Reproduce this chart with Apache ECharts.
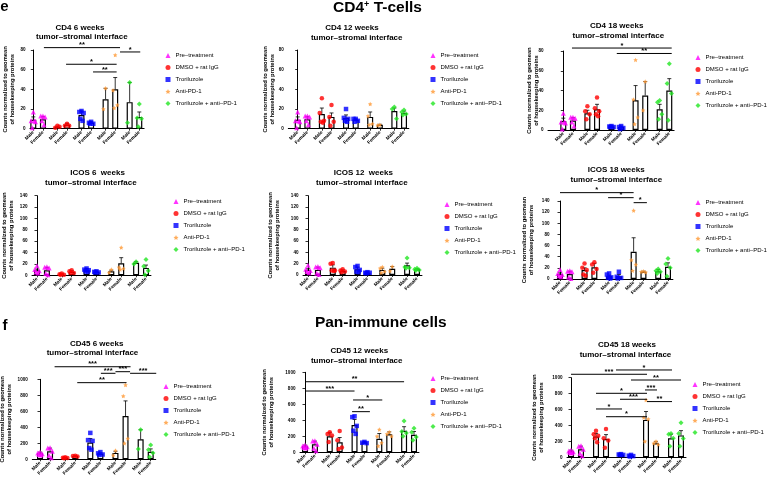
<!DOCTYPE html>
<html lang="en">
<head>
<meta charset="UTF-8">
<title>CD4+ T-cells / Pan-immune cells</title>
<style>
    body { margin: 0; background: #fff; }
    #chart { width: 770px; height: 483px; }
</style>
<script src="https://cdn.jsdelivr.net/npm/echarts@6/dist/echarts.min.js"></script>
</head>
<body>
<div id="chart"></div>
<script type="text/javascript">
var groups = ['Pre–treatment', 'DMSO + rat IgG', 'Troriluzole', 'Anti-PD-1', 'Troriluzole + anti–PD-1'];
var sexes = ['Male', 'Female'];
var yName = 'Counts normalized to geomean\nof housekeeping proteins';

// order of bars: Pre M, Pre F, DMSO M, DMSO F, Tro M, Tro F, aPD1 M, aPD1 F, combo M, combo F
var cd4w6Mean = [9, 9.5, 2, 4, 14, 6, 30, 40, 27, 12];
var cd4w6Err = [12, 12.5, 2.5, 5.5, 18, 7, 41, 52, 47, 17];
var cd4w6Pts = [[17, 8, 7, 1, 8], [13, 13, 12, 8, 4], [3, 1, 2], [5, 3, 3], [18, 17, 16, 10, 8], [7, 6, 5, 5], [41, 20], [75, 39, 24, 21], [47, 6], [25, 11, 10, 2]];
var cd4w6Sig = [[2.2, 18, 82.4, '**'], [18, 22.2, 78, '*'], [6.8, 17.3, 65.5, '*'], [12.4, 17.3, 57.7, '**']];

var cd4w12Mean = [9, 9.5, 15, 12, 11, 9, 12, 4, 18, 16];
var cd4w12Err = [12, 12.5, 21, 16, 14, 10, 17, 4.5, 21, 18];
var cd4w12Pts = [[17, 8, 7, 1, 8], [13, 13, 12, 8, 4], [31, 16, 8, 7, 6], [24, 12, 7, 3], [20, 11, 10, 8, 7], [10, 10, 8, 7], [25, 13, 5, 4], [4, 3.5], [22, 20, 10], [19, 17, 15, 14]];
var cd4w12Sig = [];

var cd4w18Mean = [9, 9.5, 17, 21, 3.5, 3, 30, 35, 21, 40];
var cd4w18Err = [12, 12.5, 20, 26, 4, 4, 45, 49, 26, 52];
var cd4w18Pts = [[17, 8, 7, 1, 8], [13, 13, 12, 8, 4], [24, 19, 16, 11], [33, 22, 19, 16, 14], [4, 3.5, 3, 3], [4, 3, 2, 1], [71, 31, 13, 6], [49, 20], [30, 28, 16, 11], [67, 47, 37, 10]];
var cd4w18Sig = [[1.8, 22.5, 83, '*'], [11.1, 22.5, 77.5, '**']];

var icosw6Mean = [9, 9, 2, 6, 9, 6, 7, 21, 22, 13];
var icosw6Err = [11, 14, 2.5, 8, 12, 7, 9, 31, 24, 18];
var icosw6Pts = [[17, 10, 8, 6, 4], [15, 14, 13, 3, 1], [3, 2, 1, 1], [9, 7, 4, 4], [12, 10, 9, 7, 6], [7, 6, 5, 5], [10, 5], [49, 14, 12, 10], [24, 20], [28, 16, 8, 1]];
var icosw6Sig = [];

var icosw12Mean = [9, 9, 13, 7, 10, 4, 9, 11, 17, 10];
var icosw12Err = [11, 14, 18, 9, 14, 5, 12, 15, 21, 11];
var icosw12Pts = [[17, 10, 8, 6, 4], [15, 14, 13, 3, 1], [21, 20, 8, 8, 7], [10, 8, 6, 5], [16, 14, 9, 6, 5], [5, 4, 4, 3], [14, 12, 6, 4], [15, 7], [30, 14, 13, 12], [12, 10, 9, 8]];
var icosw12Sig = [];

var icosw18Mean = [9, 9, 16, 21, 5, 5, 49, 13, 14, 22];
var icosw18Err = [11, 14, 20, 28, 7, 8, 74, 14, 17, 29];
var icosw18Pts = [[17, 10, 8, 6, 4], [15, 14, 13, 3, 1], [28, 20, 16, 8, 6], [30, 26, 18, 11], [10, 8, 3, 2, 1], [13, 4, 2, 1], [123, 34, 26, 15], [14, 13, 12], [18, 15, 13, 10], [37, 27, 20, 5]];
var icosw18Sig = [[0, 15, 155, '*'], [9.8, 15, 146, '*'], [15, 17.7, 137, '*']];

var cd45w6Mean = [75, 100, 20, 40, 210, 70, 80, 540, 250, 95];
var cd45w6Err = [90, 140, 25, 45, 260, 80, 100, 730, 370, 130];
var cd45w6Pts = [[90, 80, 70, 60, 55], [145, 140, 100, 50, 20], [25, 20, 15, 12], [45, 40, 35], [330, 240, 230, 140, 120], [90, 75, 60, 55], [110, 50], [930, 790, 260, 200], [370, 130], [180, 120, 80, 30]];
var cd45w6Sig = [[2.9, 18, 1157, '***'], [12.1, 15, 1075, '***'], [15, 17.9, 1095, '***'], [17.9, 23.1, 1075, '***'], [7.4, 17.2, 958, '**']];

var cd45w12Mean = [75, 100, 200, 125, 340, 125, 170, 225, 270, 220];
var cd45w12Err = [90, 140, 250, 185, 410, 135, 235, 255, 320, 260];
var cd45w12Pts = [[90, 80, 70, 60, 55], [145, 140, 100, 50, 20], [250, 230, 210, 130], [265, 150, 60, 40], [450, 440, 330, 270, 230], [130, 120, 115], [285, 200, 120, 80], [255, 230, 200], [390, 260, 240, 200], [300, 250, 190, 150]];
var cd45w12Sig = [[0, 20, 882, '**'], [0, 10, 766, '***'], [9.7, 15.6, 654, '*'], [9.5, 13.1, 508, '**']];

var cd45w18Mean = [75, 100, 260, 230, 35, 20, 470, 175, 240, 275];
var cd45w18Err = [90, 140, 300, 285, 40, 25, 575, 195, 290, 335];
var cd45w18Pts = [[90, 80, 70, 60, 55], [145, 140, 100, 50, 20], [335, 290, 270, 240, 190], [355, 240, 210, 120], [40, 35, 30, 30], [30, 20, 15, 10], [720, 500, 480, 200], [200, 175, 160], [300, 290, 240, 140], [435, 300, 235, 140]];
var cd45w18Sig = [[9, 20.2, 1097, '*'], [0, 15.2, 1043, '***'], [12, 22, 971, '**'], [14.8, 17.2, 846, '***'], [5, 15.2, 804, '*'], [9.8, 15.2, 729, '***'], [15.2, 20.2, 700, '**'], [5, 10.2, 607, '*'], [7, 15.2, 510, '*']];

var FONT = '"Liberation Sans", Arial, sans-serif';
var starPath = 'path://M0,-10L2.9,-4L9.5,-3.1L4.7,1.5L5.9,8.1L0,5L-5.9,8.1L-4.7,1.5L-9.5,-3.1L-2.9,-4Z';
var marks = [
    { symbol: 'triangle', color: '#ff00ff', size: 5 },
    { symbol: 'circle', color: '#ff0000', size: 4.5 },
    { symbol: 'rect', color: '#0000ff', size: 4.5 },
    { symbol: starPath, color: '#ff9933', size: 4.5 },
    { symbol: 'diamond', color: '#22e622', size: 5 }
];
// bar positions on the x axis (2 units inside a group, 3 between groups)
var barSlots = [0, 2, 5, 7, 10, 12, 15, 17, 20, 22];
var jitter = [0, -0.45, 0.45, -0.22, 0.22];

var panels = [
    { t1: 'CD4 6 weeks', t: [80, 27.5, 81.8, 37], ymax: 80, step: 20, axisX: 30, bar0: 33.3, barN: 139.3, yTop: 50, yZero: 128.7, gap: 14.5, leg: [168, 55],
      mean: cd4w6Mean, err: cd4w6Err, pts: cd4w6Pts, sig: cd4w6Sig },
    { t1: 'CD4 12 weeks', t: [352, 27.3, 356.7, 37.5], ymax: 80, step: 20, axisX: 288.3, bar0: 297.7, barN: 404, yTop: 50, yZero: 128.7, gap: 12, leg: [433, 55],
      mean: cd4w12Mean, err: cd4w12Err, pts: cd4w12Pts, sig: cd4w12Sig },
    { t1: 'CD4 18 weeks', t: [616.7, 26, 618.3, 36], ymax: 80, step: 20, axisX: 548, bar0: 563.3, barN: 669.3, yTop: 51, yZero: 130, gap: 8, leg: [698, 57],
      mean: cd4w18Mean, err: cd4w18Err, pts: cd4w18Pts, sig: cd4w18Sig },
    { t1: 'ICOS 6  weeks', t: [97.5, 172.3, 90.8, 182.7], ymax: 140, step: 20, axisX: 32, bar0: 37, barN: 146, yTop: 195.7, yZero: 275.3, gap: 17.5, leg: [176, 201],
      mean: icosw6Mean, err: icosw6Err, pts: icosw6Pts, sig: icosw6Sig },
    { t1: 'ICOS 12  weeks', t: [363.3, 172.7, 361.8, 182.7], ymax: 140, step: 20, axisX: 303, bar0: 308, barN: 417, yTop: 195.7, yZero: 275, gap: 22, leg: [447, 204],
      mean: icosw12Mean, err: icosw12Err, pts: icosw12Pts, sig: icosw12Sig },
    { t1: 'ICOS 18 weeks', t: [616.2, 170, 616.3, 180], ymax: 140, step: 20, axisX: 554, bar0: 560, barN: 668, yTop: 201, yZero: 279, gap: 19.5, leg: [698, 202],
      mean: icosw18Mean, err: icosw18Err, pts: icosw18Pts, sig: icosw18Sig },
    { t1: 'CD45 6 weeks', t: [96.7, 343.3, 92.5, 352.7], ymax: 1000, step: 200, axisX: 32.3, bar0: 40, barN: 150.7, yTop: 379.3, yZero: 459.3, gap: 19, leg: [166, 386],
      mean: cd45w6Mean, err: cd45w6Err, pts: cd45w6Pts, sig: cd45w6Sig },
    { t1: 'CD45 12 weeks', t: [359.3, 350.7, 356.7, 360.7], ymax: 1000, step: 200, axisX: 300, bar0: 305, barN: 414, yTop: 372.3, yZero: 452.3, gap: 25.5, leg: [433, 378],
      mean: cd45w12Mean, err: cd45w12Err, pts: cd45w12Pts, sig: cd45w12Sig },
    { t1: 'CD45 18 weeks', t: [627, 344.3, 625.5, 354.3], ymax: 1000, step: 200, axisX: 567, bar0: 571, barN: 681, yTop: 377.7, yZero: 457.3, gap: 22.5, leg: [695, 384],
      mean: cd45w18Mean, err: cd45w18Err, pts: cd45w18Pts, sig: cd45w18Sig }
];

var option = {
    animation: false,
    backgroundColor: '#fff',
    grid: [], xAxis: [], yAxis: [], legend: [], series: [],
    graphic: [
        { type: 'text', x: 4.5, y: 7, style: { text: 'e', font: 'bold 15px ' + FONT, fill: '#000', align: 'center', verticalAlign: 'middle' } },
        { type: 'text', x: 5, y: 325.5, style: { text: 'f', font: 'bold 15px ' + FONT, fill: '#000', align: 'center', verticalAlign: 'middle' } },
        { type: 'text', x: 377.5, y: 8, style: { text: '{a|CD4}{s|+}{a| T-cells}', align: 'center', verticalAlign: 'middle',
            rich: { a: { fontSize: 15.5, fontWeight: 'bold', fontFamily: FONT, fill: '#000' },
                    s: { fontSize: 9, fontWeight: 'bold', fontFamily: FONT, fill: '#000', verticalAlign: 'top' } } } },
        { type: 'text', x: 380.8, y: 322.7, style: { text: 'Pan-immune cells', font: 'bold 15.5px ' + FONT, fill: '#000', align: 'center', verticalAlign: 'middle' } }
    ]
};

panels.forEach(function (p, i) {
    var slotPx = (p.barN - p.bar0) / 22;
    var xmin = -(p.bar0 - p.axisX) / slotPx;
    var xmax = 23;

    option.grid.push({
        left: p.axisX, top: p.yTop, width: (xmax - xmin) * slotPx, height: p.yZero - p.yTop,
        containLabel: false, outerBoundsMode: 'none'
    });
    option.xAxis.push({
        type: 'value', gridIndex: i, min: xmin, max: xmax,
        splitLine: { show: false },
        axisLine: { show: true, onZero: false, lineStyle: { color: '#000', width: 1 } },
        axisTick: { show: true, customValues: barSlots, length: 2, lineStyle: { color: '#000', width: 0.8 } },
        axisLabel: {
            customValues: barSlots, rotate: 45, margin: 3, fontSize: 4.8, fontWeight: 'bold', color: '#000', fontFamily: FONT,
            formatter: function (v) { return v % 5 === 0 ? sexes[0] : sexes[1]; }
        }
    });
    option.yAxis.push({
        type: 'value', gridIndex: i, min: 0, max: p.ymax, interval: p.step,
        name: yName, nameLocation: 'middle', nameGap: p.gap, nameRotate: 90, nameMoveOverlap: false,
        nameTextStyle: { fontSize: 5.8, fontWeight: 'bold', color: '#000', fontFamily: FONT, lineHeight: 7 },
        splitLine: { show: false },
        axisLine: { show: true, lineStyle: { color: '#000', width: 1 } },
        axisTick: { show: true, length: 2.5, lineStyle: { color: '#000', width: 0.8 } },
        axisLabel: { fontSize: 4.6, fontWeight: 'bold', color: '#000', fontFamily: FONT, margin: 4.5,
            formatter: function (v) { return String(v); } }
    });
    option.graphic.push(
        { type: 'text', x: p.t[0], y: p.t[1], style: { text: p.t1, font: 'bold 8px ' + FONT, fill: '#000', align: 'center', verticalAlign: 'middle' } },
        { type: 'text', x: p.t[2], y: p.t[3], style: { text: 'tumor–stromal interface', font: 'bold 8px ' + FONT, fill: '#000', align: 'center', verticalAlign: 'middle' } }
    );
    option.legend.push({
        left: p.leg[0] - 2.5, top: p.leg[1] - 2.5, orient: 'vertical', padding: 0,
        itemWidth: 5, itemHeight: 5, itemGap: 6, selectedMode: false,
        textStyle: { fontSize: 6, color: '#000', fontFamily: FONT, lineHeight: 5 },
        data: groups
    });

    option.series.push({
        type: 'bar', xAxisIndex: i, yAxisIndex: i, barWidth: 6, silent: true, z: 2,
        itemStyle: { color: '#fff', borderColor: '#000', borderWidth: 1.2 },
        data: barSlots.map(function (s, k) { return [s, p.mean[k]]; })
    });
    option.series.push({
        type: 'custom', xAxisIndex: i, yAxisIndex: i, silent: true, z: 3,
        encode: { x: 0, y: [1, 2] },
        data: barSlots.map(function (s, k) { return [s, p.mean[k], p.err[k]]; }),
        renderItem: function (params, api) {
            var a = api.coord([api.value(0), api.value(1)]);
            var b = api.coord([api.value(0), api.value(2)]);
            return { type: 'group', children: [
                { type: 'line', shape: { x1: a[0], y1: a[1], x2: b[0], y2: b[1] }, style: { stroke: '#000', lineWidth: 0.8 } },
                { type: 'line', shape: { x1: b[0] - 2, y1: b[1], x2: b[0] + 2, y2: b[1] }, style: { stroke: '#000', lineWidth: 0.8 } }
            ] };
        }
    });
    groups.forEach(function (g, gi) {
        var data = [];
        [0, 1].forEach(function (sx) {
            var k = gi * 2 + sx;
            p.pts[k].forEach(function (v, j) {
                data.push([barSlots[k] + jitter[j % jitter.length], v]);
            });
        });
        option.series.push({
            type: 'scatter', name: g, xAxisIndex: i, yAxisIndex: i, z: 4, silent: true,
            symbol: marks[gi].symbol, symbolSize: marks[gi].size,
            itemStyle: { color: marks[gi].color },
            data: data
        });
    });
    if (p.sig.length) {
        option.series.push({
            type: 'custom', xAxisIndex: i, yAxisIndex: i, clip: false, silent: true, z: 5,
            encode: { x: [0, 2], y: 1 },
            data: p.sig.map(function (s) { return [s[0], s[2], s[1]]; }),
            renderItem: function (params, api) {
                var a = api.coord([api.value(0), api.value(1)]);
                var b = api.coord([api.value(2), api.value(1)]);
                return { type: 'group', children: [
                    { type: 'line', shape: { x1: a[0], y1: a[1], x2: b[0], y2: b[1] }, style: { stroke: '#000', lineWidth: 1 } },
                    { type: 'text', x: (a[0] + b[0]) / 2, y: a[1] + 1.5,
                      style: { text: p.sig[params.dataIndex][3], font: 'bold 7.5px ' + FONT, fill: '#000', align: 'center', verticalAlign: 'bottom' } }
                ] };
            }
        });
    }
});

var chart = echarts.init(document.getElementById('chart'));
chart.setOption(option);
</script>
</body>
</html>
